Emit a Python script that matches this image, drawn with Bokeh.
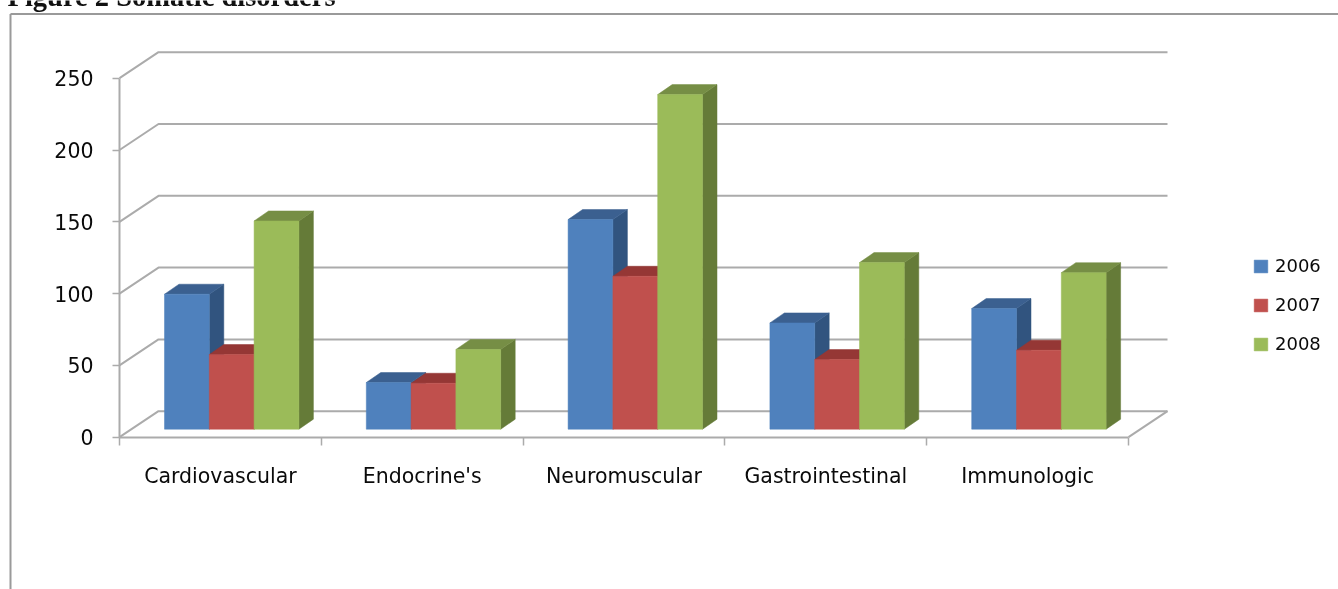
from bokeh.plotting import figure
from bokeh.models import LinearAxis, FixedTicker, Range1d, Legend, LegendItem, Label
from bokeh.embed import file_html
from bokeh.resources import INLINE

categories = ["Cardiovascular", "Endocrine's", "Neuromuscular", "Gastrointestinal", "Immunologic"]
years = ["2006", "2007", "2008"]
values_2006 = [94, 32.5, 146, 74, 84]
values_2007 = [52, 32, 106.5, 48.5, 55]
values_2008 = [145, 55.5, 233, 116, 109]
y_ticks = [0, 50, 100, 150, 200, 250]
title_text = "Figure 2 Somatic disorders"

front_colors = ["#4F81BD", "#C0504D", "#9BBB59"]
side_colors = ["#31547F", "#7E2F2D", "#657B38"]
top_colors = ["#3B6090", "#953735", "#768E45"]
grid_color = "#ABABAB"
text_color = "#0A0A0A"
font = "DejaVu Sans"

W, H = 1338, 589
X0, Y0 = 119.0, 436.7            # screen position of the chart origin
PX_X, PX_Y = 201.8, 1.436        # pixels per category, pixels per value unit


def dx(px):
    return px / PX_X


def dy(px):
    return px / PX_Y


def sx(px):
    return (px - X0) / PX_X


def sy(px):
    return (Y0 - px) / PX_Y


p = figure(width=W, height=H, output_backend="svg", toolbar_location=None,
           x_range=Range1d(sx(0), sx(W)), y_range=Range1d(sy(H), sy(0)),
           x_axis_type=None, y_axis_type=None, min_border=0,
           outline_line_color=None, background_fill_color="white", border_fill_color="white")
p.xgrid.visible = False
p.ygrid.visible = False
p.styles = {"position": "fixed", "left": "0", "top": "0"}

# Chart border (top and left edges)
p.segment([sx(10)], [sy(13.5)], [sx(W)], [sy(13.5)], line_color="#9A9A9A", line_width=2)
p.segment([sx(10)], [sy(13.5)], [sx(10)], [sy(H)], line_color="#9A9A9A", line_width=2)

# Perspective walls
wall_dx, wall_dy = dx(39), dy(26)
n = len(categories)
for v in y_ticks:
    p.line([0, wall_dx, n + wall_dx], [v, v + wall_dy, v + wall_dy],
           line_color=grid_color, line_width=2)
p.line([n, n + wall_dx], [0, wall_dy], line_color=grid_color, line_width=2)

# Bars
bar_w = dx(44.8)
start = dx(45.0)
lift = dy(8)
depth_x, depth_y = dx(14.5), dy(10)
series = [values_2006, values_2007, values_2008]
items = []
for j, vals in enumerate(series):
    left = [i + start + j * bar_w for i in range(n)]
    right = [l + bar_w for l in left]
    top = [lift + v for v in vals]
    bottom = [lift] * n
    p.patches([[r, r + depth_x, r + depth_x, r] for r in right],
              [[lift, lift + depth_y, t + depth_y, t] for t in top],
              fill_color=side_colors[j], line_color=side_colors[j], line_width=0.5)
    p.patches([[l, l + depth_x, r + depth_x, r] for l, r in zip(left, right)],
              [[t, t + depth_y, t + depth_y, t] for t in top],
              fill_color=top_colors[j], line_color=top_colors[j], line_width=0.5)
    front = p.quad(left=left, right=right, bottom=bottom, top=top,
                   fill_color=front_colors[j], line_color=front_colors[j], line_width=0.5)
    items.append(LegendItem(label=years[j], renderers=[front]))

# Axes
yaxis = LinearAxis(fixed_location=0, ticker=FixedTicker(ticks=y_ticks), bounds=(0, 250))
yaxis.axis_line_color = grid_color
yaxis.axis_line_width = 2
yaxis.major_tick_line_color = grid_color
yaxis.major_tick_line_width = 1.5
yaxis.major_tick_in = 0
yaxis.major_tick_out = 7
yaxis.minor_tick_line_color = None
yaxis.major_label_text_font = font
yaxis.major_label_text_font_size = "20.5px"
yaxis.major_label_text_color = text_color
yaxis.major_label_standoff = 19
p.add_layout(yaxis, "left")

xaxis = LinearAxis(fixed_location=0,
                   ticker=FixedTicker(ticks=[i + 0.5 for i in range(n)],
                                      minor_ticks=list(range(n + 1))),
                   bounds=(0, n))
xaxis.major_label_overrides = {i + 0.5: c for i, c in enumerate(categories)}
xaxis.axis_line_color = grid_color
xaxis.axis_line_width = 2
xaxis.major_tick_line_color = None
xaxis.major_tick_in = 0
xaxis.major_tick_out = 0
xaxis.minor_tick_line_color = grid_color
xaxis.minor_tick_line_width = 1.5
xaxis.minor_tick_in = 0
xaxis.minor_tick_out = 8
xaxis.major_label_text_font = font
xaxis.major_label_text_font_size = "20.5px"
xaxis.major_label_text_color = text_color
xaxis.major_label_standoff = 19
p.add_layout(xaxis, "below")

# Legend
legend = Legend(items=items, location=(1252, H - 354), orientation="vertical",
                border_line_color=None, background_fill_alpha=0,
                padding=0, margin=0, spacing=18,
                glyph_width=17, glyph_height=16, label_standoff=6,
                label_text_font=font, label_text_font_size="18px",
                label_text_color=text_color)
p.add_layout(legend, "center")

# Title, clipped by the top of the page as in the reference
p.add_layout(Label(x=sx(7), y=sy(-4), text=title_text, text_font="Liberation Serif",
                   text_font_style="bold", text_font_size="28.5px", text_color="#111111",
                   text_baseline="alphabetic"))

open("out.html", "w").write(file_html(p, INLINE))
